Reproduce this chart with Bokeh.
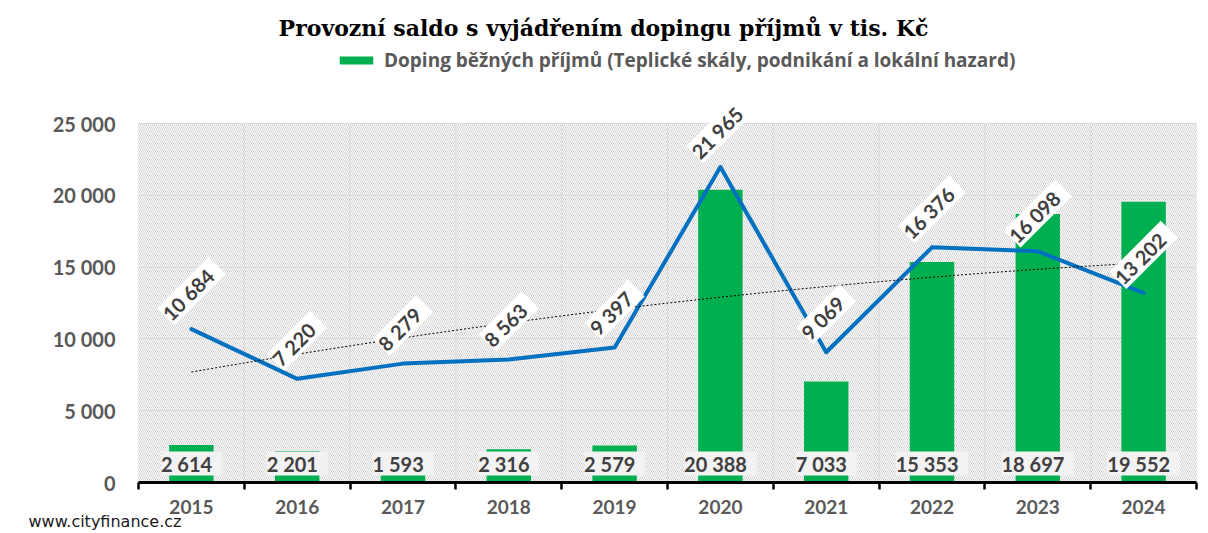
import numpy as np
from bokeh.plotting import figure
from bokeh.models import (ColumnDataSource, Range1d, FixedTicker, LinearAxis,
                          LabelSet, Label, Legend, LegendItem, BoxAnnotation, Title)
from bokeh.core.properties import value
from bokeh.embed import file_html
from bokeh.resources import INLINE

# ---- data ----
years = ["2015", "2016", "2017", "2018", "2019", "2020", "2021", "2022", "2023", "2024"]
saldo = [10684, 7220, 8279, 8563, 9397, 21965, 9069, 16376, 16098, 13202]
doping = [2614, 2201, 1593, 2316, 2579, 20388, 7033, 15353, 18697, 19552]
y_ticks = [0, 5000, 10000, 15000, 20000, 25000]
y_tick_labels = ["0", "5 000", "10 000", "15 000", "20 000", "25 000"]
title_text = "Provozní saldo s vyjádřením dopingu příjmů v tis. Kč"
legend_text = "Doping běžných příjmů (Teplické skály, podnikání a lokální hazard)"
source_text = "www.cityfinance.cz"


def fmt(v):
    return " " + f"{v:,}".replace(",", " ") + " "


src = ColumnDataSource(dict(
    year=years, saldo=saldo, doping=doping,
    saldo_lbl=[fmt(v) for v in saldo],
    doping_lbl=[fmt(v) for v in doping],
))

n = len(years)
y_max = y_ticks[-1]
bounds = list(range(n + 1))                 # synthetic coords of category boundaries
centers = [i + 0.5 for i in range(n)]       # synthetic coords of category centres

# ---- layout geometry (pixels) ----
W, H = 1204, 531
LEFT, RIGHT = 138, 1196          # plot area left / right
TOP, BOTTOM = 123, 482           # plot area top (25 000) / bottom (0)
y_top = y_max * BOTTOM / (BOTTOM - TOP)   # frame reaches canvas top


def yd(py):
    return (BOTTOM - py) * y_top / BOTTOM


def xd(px):
    return (px - LEFT) * n / (RIGHT - LEFT)


p = figure(width=W, height=H, x_range=years, y_range=Range1d(0, y_top),
           output_backend="svg", toolbar_location=None, x_axis_location=None,
           min_border_left=LEFT, min_border_right=W - RIGHT, min_border_top=0,
           min_border_bottom=H - BOTTOM,
           background_fill_color="white", border_fill_color="white",
           outline_line_color=None)

# hatched plot area
p.add_layout(BoxAnnotation(left=0, right=n, bottom=0, top=y_max,
                           fill_color="white", fill_alpha=1.0, line_color=None,
                           hatch_pattern="\\", hatch_color="#d2d2d2", hatch_scale=4,
                           hatch_weight=1, level="image"))

# y axis
p.yaxis.ticker = FixedTicker(ticks=y_ticks)
p.yaxis.major_label_overrides = dict(zip(y_ticks, y_tick_labels))
p.yaxis.axis_line_color = None
p.yaxis.major_tick_line_color = None
p.yaxis.minor_tick_line_color = None
p.yaxis.major_label_text_font = "Lato"
p.yaxis.major_label_text_font_style = "bold"
p.yaxis.major_label_text_font_size = "20px"
p.yaxis.major_label_text_color = "#595959"
p.yaxis.major_label_standoff = 17

p.ygrid.ticker = FixedTicker(ticks=y_ticks)
p.ygrid.grid_line_color = "#d9d9d9"
p.xgrid.visible = False

# vertical grid lines at category boundaries (plot area only)
p.segment(x0=bounds, y0=0, x1=bounds, y1=y_max, line_color="#d9d9d9", line_width=1)

# x axis: year labels at category centres, tick marks at category boundaries
x_axis = LinearAxis(ticker=FixedTicker(ticks=centers, minor_ticks=bounds),
                    major_label_overrides=dict(zip(centers, years)),
                    axis_line_color="black", axis_line_width=3,
                    major_tick_line_color=None, major_tick_out=7, major_tick_in=0,
                    minor_tick_line_color="black", minor_tick_line_width=2.5,
                    minor_tick_out=7, minor_tick_in=0,
                    major_label_standoff=10,
                    major_label_text_font="Lato", major_label_text_font_style="bold",
                    major_label_text_font_size="19px", major_label_text_color="#595959")
p.add_layout(x_axis, "below")

# bars
bars = p.vbar(x="year", top="doping", width=0.42, source=src,
              fill_color="#00B050", line_color=None)

# saldo line
p.line(x="year", y="saldo", source=src, line_color="#0070C0", line_width=4,
       line_join="round", line_cap="round")

# polynomial (order 2) trendline of saldo
idx = np.arange(n)
coef = np.polyfit(idx, saldo, 2)
tx = np.linspace(0, n - 1, 80)
p.line(tx + 0.5, np.polyval(coef, tx),
       line_color="black", line_width=1, line_dash="2 2")

# labels for bars
p.add_layout(LabelSet(x="year", y=0, y_offset=19, text="doping_lbl", source=src,
                      text_align="center", text_baseline="middle",
                      text_font=value("Lato"), text_font_style="bold",
                      text_font_size="20px", text_color="#404040", text_line_height=1.35,
                      background_fill_color="#f2f2f2"))

# labels for line
p.add_layout(LabelSet(x="year", y="saldo", y_offset=38, text="saldo_lbl", source=src,
                      angle=np.pi / 4, text_align="center", text_baseline="middle",
                      text_font=value("Lato"), text_font_style="bold",
                      text_font_size="20px", text_color="#404040", text_line_height=1.45,
                      background_fill_color="white"))

# legend (inside the extended frame, above the plot area)
legend = Legend(items=[LegendItem(label=value(legend_text), renderers=[bars])],
                location=(335 - LEFT, BOTTOM - 73), orientation="horizontal",
                padding=0, margin=0, border_line_color=None, background_fill_alpha=0,
                glyph_width=42, glyph_height=10, label_standoff=7, label_height=22,
                label_text_font="Open Sans", label_text_font_style="bold",
                label_text_font_size="19px", label_text_color="#595959")
p.add_layout(legend, "center")

# title
p.add_layout(Label(x=xd(603), y=yd(27), text=title_text,
                   text_align="center", text_baseline="middle",
                   text_font="DejaVu Serif", text_font_style="bold",
                   text_font_size="22px", text_color="#000000"))

# source note under the axis
p.add_layout(Title(text=source_text, align="left", offset=28 - LEFT,
                   vertical_align="top", standoff=-9,
                   text_font="DejaVu Sans", text_font_style="normal",
                   text_font_size="16px", text_color="#1a1a1a"), "below")

open("out.html", "w").write(file_html(p, INLINE))
